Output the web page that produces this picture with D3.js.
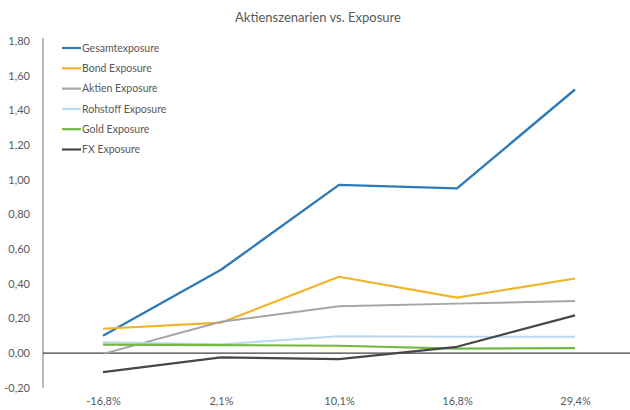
<!DOCTYPE html>
<html>
<head>
<meta charset="utf-8">
<script src="https://cdn.jsdelivr.net/npm/d3@7"></script>
<style>
  html, body { margin: 0; padding: 0; background: #fff; }
  svg { display: block; font-family: Lato, "Open Sans", sans-serif; }
</style>
</head>
<body>
<svg id="chart" width="630" height="410"></svg>
<script>
// Scenario categories (equity market moves)
const scenarios = ["-16,8%", "2,1%", "10,1%", "16,8%", "29,4%"];

// Exposure series per scenario
const seriesNames = ["Gesamtexposure", "Bond Exposure", "Aktien Exposure", "Rohstoff Exposure", "Gold Exposure", "FX Exposure"];
const gesamt   = [0.10, 0.48, 0.97, 0.95, 1.52];
const bond     = [0.14, 0.175, 0.44, 0.32, 0.43];
const aktien   = [-0.005, 0.18, 0.27, 0.285, 0.30];
const rohstoff = [0.062, 0.05, 0.097, 0.094, 0.094];
const gold     = [0.048, 0.046, 0.042, 0.025, 0.028];
const fx       = [-0.11, -0.025, -0.035, 0.036, 0.217];

const yTicks = [-0.2, 0, 0.2, 0.4, 0.6, 0.8, 1.0, 1.2, 1.4, 1.6, 1.8];

const colors = ["#2e7bb8", "#f2b326", "#a5a5a5", "#bcd8ee", "#74b843", "#474747"];
const widths = [2.4, 2.2, 2, 2, 2.2, 2.2];
const allSeries = [gesamt, bond, aktien, rohstoff, gold, fx];

const svg = d3.select("#chart");
const fmt = v => d3.format(".2f")(v).replace(".", ",").replace("−", "-");

const x = d3.scalePoint().domain(scenarios).range([44, 634]).padding(0.5);
const y = d3.scaleLinear().domain([-0.2, 1.8]).range([387.7, 41]);

// Title
svg.append("text")
  .attr("x", 318).attr("y", 22)
  .attr("text-anchor", "middle")
  .attr("font-size", 13)
  .attr("fill", "#595959")
  .text("Aktienszenarien vs. Exposure");

// Y axis with comma-decimal labels
const yAxis = d3.axisLeft(y).tickValues(yTicks).tickSize(0).tickPadding(13).tickFormat(fmt);
const gy = svg.append("g").attr("transform", "translate(43,0)").call(yAxis);
gy.select(".domain").attr("stroke", "#8c8c8c").attr("stroke-width", 1.2)
  .attr("d", `M0,${y(1.8) - 3}V${y(-0.2)}`);
gy.selectAll("text").attr("font-size", 11).attr("fill", "#595959")
  .attr("font-family", "Lato, sans-serif");

// Zero baseline
svg.append("line")
  .attr("x1", 43).attr("x2", 630)
  .attr("y1", y(0)).attr("y2", y(0))
  .attr("stroke", "#404040").attr("stroke-width", 1.3);

// Category labels
const xAxis = d3.axisBottom(x).tickSize(0).tickPadding(0);
const gx = svg.append("g").attr("transform", "translate(0,397)").call(xAxis);
gx.select(".domain").remove();
gx.selectAll("text").attr("font-size", 11).attr("fill", "#595959")
  .attr("font-family", "Lato, sans-serif");

// Series lines
const line = d3.line().x((d, i) => x(scenarios[i])).y(d => y(d));
allSeries.forEach((s, k) => {
  svg.append("path")
    .datum(s)
    .attr("d", line)
    .attr("fill", "none")
    .attr("stroke", colors[k])
    .attr("stroke-width", widths[k])
    .attr("stroke-linejoin", "round");
});

// Legend
const legend = svg.append("g").attr("transform", "translate(62,48)");
seriesNames.forEach((name, k) => {
  const g = legend.append("g").attr("transform", `translate(0,${k * 20.3})`);
  g.append("line").attr("x1", 0).attr("x2", 19).attr("y1", 0).attr("y2", 0)
    .attr("stroke", colors[k]).attr("stroke-width", 2.2);
  g.append("text").attr("x", 20).attr("y", 3.8)
    .attr("font-size", 10.5).attr("fill", "#595959")
    .text(name);
});
</script>
</body>
</html>
